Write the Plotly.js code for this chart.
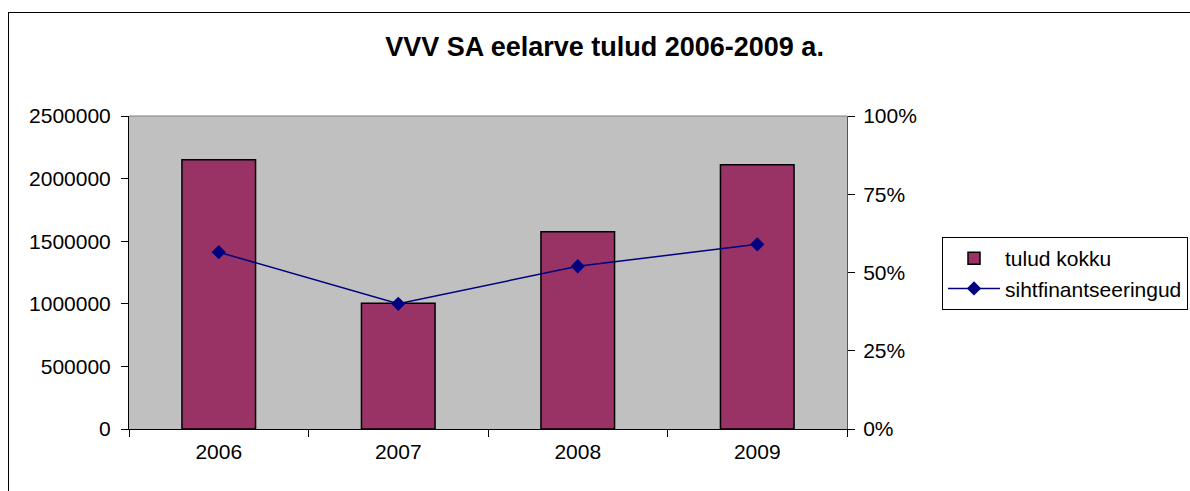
<!DOCTYPE html>
<html>
<head>
<meta charset="utf-8">
<script src="https://cdn.plot.ly/plotly-3.0.1.min.js"></script>
<style>
  body { margin: 0; background: #fff; }
  #chart { width: 1190px; height: 491px; }
  #frame { position: absolute; left: 8px; top: 12px; width: 1200px; height: 500px;
           border: 1.5px solid #000; pointer-events: none; }
</style>
</head>
<body>
<div id="chart"></div>
<div id="frame"></div>
<script>
const years = ["2006", "2007", "2008", "2009"];
const tuludKokku = [2150000, 1005000, 1575000, 2110000];
const sihtfinantseeringud = [0.565, 0.40, 0.52, 0.59];

const font = "Liberation Sans, Arial, sans-serif";

const traces = [
    {
        x: years,
        y: tuludKokku,
        name: "tulud kokku",
        type: "bar",
        width: 0.41,
        marker: {color: "#993366", line: {color: "#000", width: 1.5}},
    },
    {
        x: years,
        y: sihtfinantseeringud,
        name: "sihtfinantseeringud",
        type: "scatter",
        mode: "lines+markers",
        yaxis: "y2",
        line: {color: "#000080", width: 1.5},
        marker: {symbol: "diamond", size: 11, color: "#000080"},
    },
];

const layout = {
    width: 1190,
    height: 491,
    margin: {l: 129, r: 343, t: 116, b: 62},
    paper_bgcolor: "#fff",
    plot_bgcolor: "#c0c0c0",
    font: {family: font, size: 21, color: "#000"},
    title: {
        text: "<b>VVV SA eelarve tulud 2006-2009 a.</b>",
        font: {size: 27, family: font},
        x: 0.508, xref: "container", xanchor: "center",
        y: 1 - 47 / 491, yref: "container", yanchor: "middle",
    },
    showlegend: true,
    legend: {
        xref: "container", yref: "container",
        x: 942 / 1190, xanchor: "left",
        y: 1 - 237 / 491, yanchor: "top",
        bordercolor: "#000", borderwidth: 1,
        bgcolor: "#fff",
        font: {size: 21},
        itemwidth: 52,
        tracegroupgap: 0,
    },
    xaxis: {
        type: "category",
        tickson: "boundaries",
        ticks: "outside",
        ticklen: 7,
        tickcolor: "#000",
        showline: true,
        linecolor: "#000",
        linewidth: 1,
        showgrid: false,
        zeroline: false,
        ticklabelstandoff: 4,
    },
    yaxis: {
        range: [0, 2500000],
        dtick: 500000,
        tickformat: "d",
        ticks: "outside",
        ticklen: 7,
        tickcolor: "#000",
        showline: true,
        linecolor: "#000",
        showgrid: false,
        zeroline: false,
        ticklabelstandoff: 6,
    },
    yaxis2: {
        overlaying: "y",
        side: "right",
        range: [0, 1],
        dtick: 0.25,
        tickformat: ".0%",
        ticks: "outside",
        ticklen: 7,
        tickcolor: "#000",
        showline: true,
        linecolor: "#555",
        showgrid: false,
        zeroline: false,
        ticklabelstandoff: 4,
    },
    shapes: [
        {type: "line", xref: "paper", yref: "paper", x0: 0, x1: 1, y0: 1, y1: 1,
         line: {color: "#808080", width: 1}},
    ],
};

Plotly.newPlot("chart", traces, layout, {displayModeBar: false});
</script>
</body>
</html>
